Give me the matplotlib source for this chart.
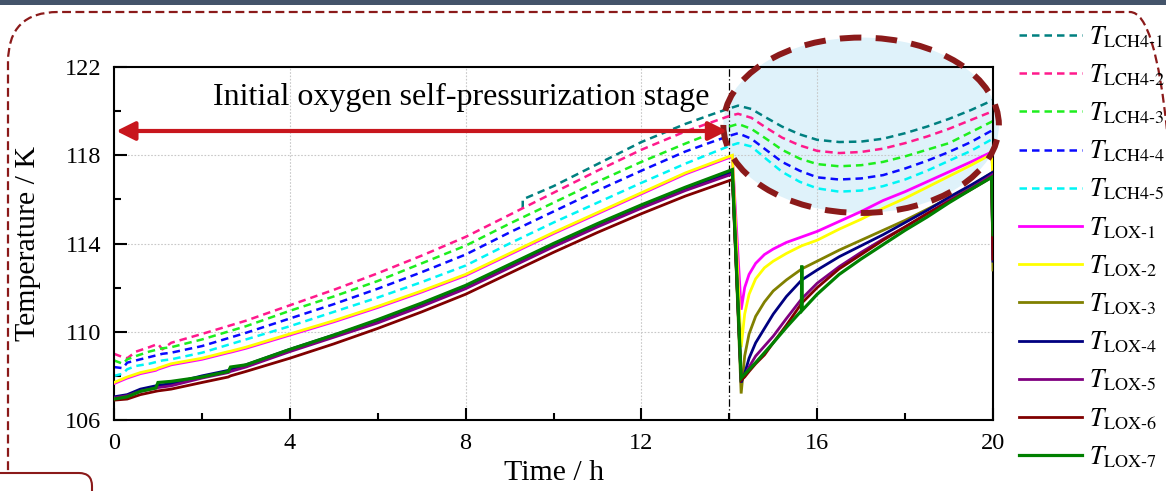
import matplotlib
matplotlib.use("Agg")
import matplotlib.pyplot as plt
from matplotlib.patches import Ellipse, FancyBboxPatch, Rectangle

plt.rcParams['font.family'] = ['Liberation Serif', 'DejaVu Serif']
plt.rcParams['mathtext.fontset'] = 'stix'

# ---------------- data ----------------
# ullage (LCH4) sensor temperatures
time_gas = [0, 0.2, 0.3, 0.5, 0.8, 1.0, 1.1, 1.3, 2, 3, 4, 5, 6, 7, 8, 9, 10, 11, 12, 13,
            13.6, 14.0, 14.2, 14.5, 14.8, 15.2, 15.6, 16.0, 16.5, 17, 17.5, 18, 18.5, 19, 19.5, 20]
time_lch4_1 = [9.3, 9.3, 10, 11, 12, 13, 13.6, 14.0, 14.2, 14.5, 14.8, 15.2, 15.6, 16.0,
               16.5, 17, 17.5, 18, 18.5, 19, 19.5, 20]
lch4_1 = [115.6, 116.0, 116.6, 117.6, 118.6, 119.42, 119.85, 120.12, 120.25, 120.1, 119.75,
          119.3, 118.95, 118.7, 118.6, 118.62, 118.75, 119.0, 119.3, 119.65, 120.05, 120.5]
lch4_2 = [109.0, 108.85, 108.8, 109.1, 109.3, 109.45, 109.2, 109.5, 109.9, 110.5, 111.2, 111.9,
          112.65, 113.45, 114.3, 115.3, 116.3, 117.3, 118.25, 119.08, 119.5, 119.78, 119.88,
          119.7, 119.3, 118.8, 118.45, 118.2, 118.1, 118.15, 118.3, 118.55, 118.85, 119.2,
          119.6, 120.0]
lch4_3 = [108.7, 108.55, 108.75, 108.9, 109.1, 109.2, 109.25, 109.3, 109.65, 110.25, 110.95,
          111.6, 112.3, 113.1, 113.9, 114.9, 115.85, 116.8, 117.7, 118.53, 119.0, 119.3, 119.42,
          119.2, 118.8, 118.25, 117.85, 117.6, 117.5, 117.55, 117.7, 117.95, 118.25, 118.55,
          119.05, 119.55]
lch4_4 = [108.4, 108.35, 108.6, 108.7, 108.85, 108.95, 109.0, 109.05, 109.35, 109.95, 110.6,
          111.25, 111.95, 112.7, 113.5, 114.5, 115.45, 116.4, 117.3, 118.17, 118.6, 118.88, 119.0,
          118.75, 118.3, 117.7, 117.3, 117.0, 116.9, 116.95, 117.1, 117.4, 117.75, 118.15, 118.6,
          119.15]
lch4_5 = [108.0, 108.1, 108.3, 108.45, 108.55, 108.65, 108.7, 108.75, 109.05, 109.65, 110.25,
          110.9, 111.55, 112.25, 113.0, 114.0, 114.95, 115.85, 116.75, 117.62, 118.1, 118.42,
          118.55, 118.4, 117.9, 117.25, 116.8, 116.5, 116.35, 116.4, 116.6, 116.9, 117.3, 117.75,
          118.2, 118.75]

# liquid (LOX) sensor temperatures
time_liq = [0, 0.3, 0.6, 0.95, 1.0, 1.3, 2, 2.6, 2.65, 3, 4, 5, 6, 7, 8, 9, 10, 11, 12, 13,
            14.07, 14.27, 14.35, 14.45, 14.6, 14.8, 15.0, 15.3, 15.65, 16.0, 16.5, 17, 17.5, 18,
            18.5, 19, 19.5, 19.97, 20.0]
lox_1 = [107.65, 107.9, 108.1, 108.25, 108.3, 108.5, 108.75, 109.05, 109.07, 109.25, 109.85,
         110.45, 111.1, 111.8, 112.55, 113.5, 114.45, 115.35, 116.25, 117.15, 117.95, 111.0,
         112.0, 112.6, 113.1, 113.5, 113.75, 114.05, 114.3, 114.55, 115.0, 115.45, 115.95,
         116.35, 116.8, 117.25, 117.7, 118.15, 117.2]
lox_2 = [107.7, 107.95, 108.15, 108.3, 108.35, 108.55, 108.8, 109.1, 109.12, 109.3, 109.9,
         110.5, 111.15, 111.85, 112.6, 113.55, 114.5, 115.4, 116.3, 117.2, 118.0, 109.3, 110.8,
         111.7, 112.4, 112.9, 113.2, 113.55, 113.9, 114.15, 114.65, 115.1, 115.6, 116.05,
         116.55, 117.05, 117.55, 118.05, 117.0]
lox_3 = [107.0, 107.1, 107.35, 107.5, 107.52, 107.6, 107.95, 108.2, 108.3, 108.45, 109.15,
         109.8, 110.45, 111.2, 112.0, 112.95, 113.9, 114.8, 115.65, 116.45, 117.2, 107.2, 108.9,
         109.9, 110.7, 111.35, 111.85, 112.35, 112.85, 113.2, 113.7, 114.15, 114.6, 115.05,
         115.55, 116.05, 116.6, 117.2, 112.8]
lox_4 = [107.05, 107.15, 107.4, 107.55, 107.57, 107.65, 108.0, 108.25, 108.3, 108.5, 109.2,
         109.85, 110.5, 111.25, 112.05, 113.0, 113.95, 114.85, 115.7, 116.5, 117.25, 107.7,
         108.1, 108.8, 109.5, 110.15, 110.8, 111.6, 112.35, 112.8, 113.4, 113.9, 114.4, 114.95,
         115.5, 116.1, 116.65, 117.2, 113.2]
lox_5 = [107.0, 107.1, 107.3, 107.45, 107.47, 107.55, 107.9, 108.15, 108.2, 108.4, 109.1,
         109.75, 110.4, 111.15, 111.95, 112.9, 113.85, 114.75, 115.6, 116.4, 117.15, 107.9,
         108.0, 108.4, 108.9, 109.35, 109.8, 110.6, 111.5, 112.2, 112.95, 113.6, 114.2, 114.75,
         115.35, 115.95, 116.5, 117.1, 113.3]
lox_6 = [106.9, 106.95, 107.15, 107.3, 107.32, 107.4, 107.7, 107.95, 108.0, 108.2, 108.8,
         109.45, 110.15, 110.9, 111.7, 112.65, 113.6, 114.5, 115.35, 116.15, 116.9, 107.8,
         107.95, 108.2, 108.55, 108.95, 109.5, 110.3, 111.3, 112.0, 112.85, 113.5, 114.15,
         114.75, 115.35, 115.9, 116.45, 117.0, 113.3]
time_lox_7 = [0, 0.3, 0.6, 0.95, 1.0, 1.3, 2, 2.6, 2.65, 3, 4, 5, 6, 7, 8, 9, 10, 11, 12, 13,
              14.07, 14.27, 14.6, 15.0, 15.3, 15.64, 15.65, 15.66, 16.0, 16.5, 17, 17.5, 18,
              18.5, 19, 19.5, 19.97, 20.0]
lox_7 = [106.95, 107.05, 107.3, 107.45, 107.7, 107.75, 107.95, 108.2, 108.4, 108.5, 109.2,
         109.85, 110.55, 111.3, 112.1, 113.05, 114.0, 114.9, 115.75, 116.55, 117.35, 107.9,
         108.6, 109.5, 110.2, 110.95, 113.0, 110.97, 111.7, 112.6, 113.3, 113.95, 114.6, 115.2,
         115.85, 116.45, 117.0, 114.4]

labels_gas = ['LCH4-1', 'LCH4-2', 'LCH4-3', 'LCH4-4', 'LCH4-5']
labels_liq = ['LOX-1', 'LOX-2', 'LOX-3', 'LOX-4', 'LOX-5', 'LOX-6', 'LOX-7']

x_ticks = [0, 4, 8, 12, 16, 20]
y_ticks = [106, 110, 114, 118, 122]

# ---------------- styling ----------------
gas_colors = ['#008080', '#ff1a8c', '#1eee1e', '#0a0aff', '#00f5f5']
liq_colors = ['#ff00ff', '#ffff00', '#808000', '#000080', '#800080', '#800000', '#008000']
dark_red = '#8b1a1a'

fig = plt.figure(figsize=(11.66, 4.91), dpi=100)
ax = fig.add_axes([0.0978, 0.1446, 0.7538, 0.7189])

# highlighted region behind the curves
ax.add_patch(Ellipse((17.0, 119.36), 6.27, 7.95, facecolor='#dff2fa', edgecolor='none',
                     zorder=0.2, clip_on=False))

gas_series = [(time_lch4_1, lch4_1), (time_gas, lch4_2), (time_gas, lch4_3),
              (time_gas, lch4_4), (time_gas, lch4_5)]
liq_series = [(time_liq, lox_1), (time_liq, lox_2), (time_liq, lox_3), (time_liq, lox_4),
              (time_liq, lox_5), (time_liq, lox_6), (time_lox_7, lox_7)]

handles = []
for (t, v), c, name in zip(gas_series, gas_colors, labels_gas):
    h, = ax.plot(t, v, color=c, lw=1.8, dashes=(3.0, 2.0), zorder=2,
                 label=r'$T_{\text{' + name + r'}}$')
    handles.append(h)
for (t, v), c, name in zip(liq_series, liq_colors, labels_liq):
    lw = 2.3 if name == 'LOX-7' else 2.0
    h, = ax.plot(t, v, color=c, lw=lw, solid_joinstyle='miter', zorder=3,
                 label=r'$T_{\text{' + name + r'}}$')
    handles.append(h)

# end of initial stage
ax.axvline(14, color='black', lw=0.9, ls=(0, (6, 2, 1, 2)), zorder=1.8)

# highlighted region outline
ax.add_patch(Ellipse((17.0, 119.36), 6.27, 7.95, facecolor='none', edgecolor=dark_red,
                     lw=4.3, ls=(0, (3.6, 2.4)), zorder=6, clip_on=False))

ax.annotate('', xy=(0.05, 119.1), xytext=(13.95, 119.1),
            arrowprops=dict(arrowstyle='<|-|>', color='#c8161d', lw=3,
                            mutation_scale=28, shrinkA=0, shrinkB=0), zorder=7)
ax.text(7.9, 120.6, 'Initial oxygen self-pressurization stage', fontsize=23,
        ha='center', va='center', zorder=7)

ax.set_xlim(0, 20)
ax.set_ylim(106, 122)
ax.set_xticks(x_ticks)
ax.set_yticks(y_ticks)
ax.set_xticks([2, 6, 10, 14, 18], minor=True)
ax.set_yticks([108, 112, 116, 120], minor=True)
ax.tick_params(which='major', direction='in', length=9, width=1.5, labelsize=17.5, pad=9,
               top=False, right=False)
ax.tick_params(which='minor', direction='in', length=5, width=1.5, top=False, right=False)
ax.set_axisbelow('line')
ax.grid(True, which='major', color='#c8c8c8', lw=0.8, ls=(0, (1.5, 1.5)))
for s in ax.spines.values():
    s.set_linewidth(1.5)

ax.set_xlabel('Time / h', fontsize=21.5, labelpad=5)
ax.set_ylabel('Temperature / K', fontsize=21.5, labelpad=17)

leg = fig.legend(handles=handles, loc='upper left', bbox_to_anchor=(1019 / 1166, 1 - 24 / 491),
                 frameon=False, fontsize=18.5, handlelength=2.45, handletextpad=0.28,
                 labelspacing=0.49, borderpad=0, borderaxespad=0)

# page decorations
fig.add_artist(Rectangle((0, 4.86), 11.66, 0.06, transform=fig.dpi_scale_trans,
                         facecolor='#44546a', edgecolor='none', zorder=0))
fig.add_artist(FancyBboxPatch((0.08, -0.6), 11.72, 5.39,
                              boxstyle='round,pad=0,rounding_size=0.5',
                              transform=fig.dpi_scale_trans, facecolor='none',
                              edgecolor=dark_red, lw=1.6, ls=(0, (4, 2)), zorder=0))
fig.add_artist(FancyBboxPatch((-0.5, -0.6), 1.42, 0.78,
                              boxstyle='round,pad=0,rounding_size=0.13',
                              transform=fig.dpi_scale_trans, facecolor='white',
                              edgecolor=dark_red, lw=1.5, zorder=0.5))

fig.savefig('out.png', dpi=100)
